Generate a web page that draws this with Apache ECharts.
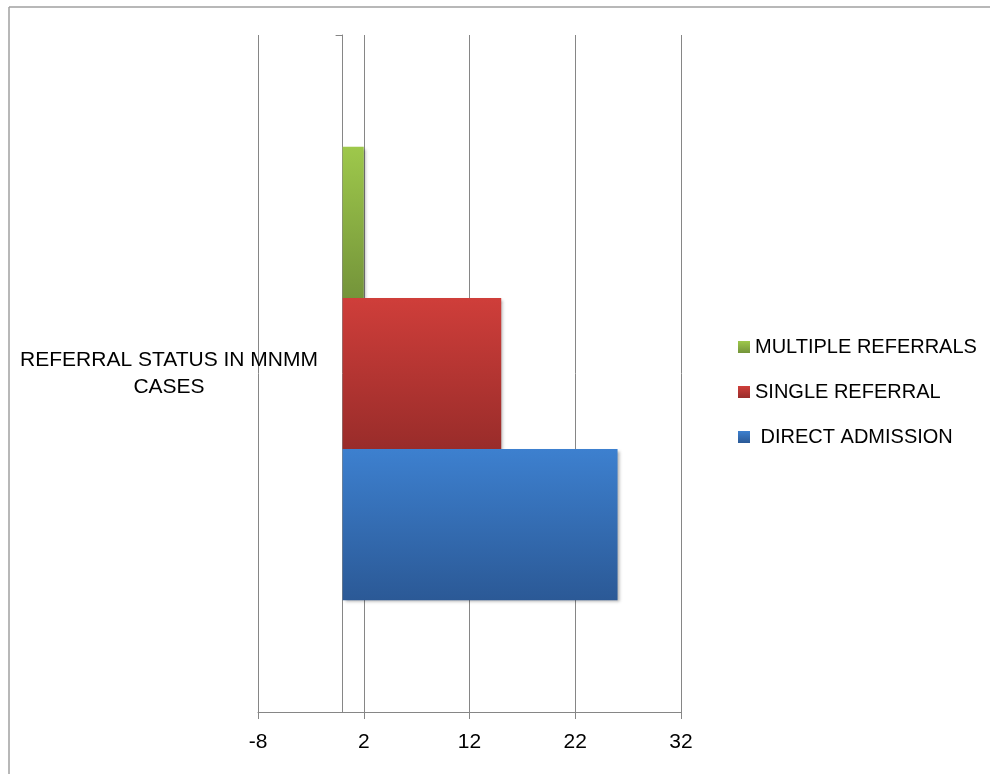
<!DOCTYPE html>
<html>
<head>
<meta charset="utf-8">
<script src="https://cdn.jsdelivr.net/npm/echarts@6/dist/echarts.min.js"></script>
<style>
  html, body { margin: 0; padding: 0; background: #fff; }
  #chart { width: 990px; height: 774px; }
</style>
</head>
<body>
<div id="chart"></div>
<script>
var categories = ['REFERRAL STATUS IN MNMM CASES'];
var seriesNames = ['MULTIPLE REFERRALS', 'SINGLE REFERRAL', 'DIRECT ADMISSION'];
var multipleReferrals = [2];
var singleReferral = [15];
var directAdmission = [26];
var legendOrder = ['MULTIPLE REFERRALS', 'SINGLE REFERRAL', 'DIRECT ADMISSION'];

var chartDom = document.getElementById('chart');
var myChart = echarts.init(chartDom);
var option;

function grad(top, bottom) {
    return new echarts.graphic.LinearGradient(0, 0, 0, 1, [
        {offset: 0, color: top},
        {offset: 1, color: bottom}
    ]);
}

var barShadow = {
    shadowBlur: 3,
    shadowOffsetX: 2,
    shadowOffsetY: 2,
    shadowColor: 'rgba(0,0,0,0.3)'
};

option = {
    backgroundColor: '#fff',
    textStyle: { fontFamily: 'Liberation Sans' },
    animation: false,
    grid: { left: 258, right: 309, top: 35, bottom: 62, containLabel: false, outerBoundsMode: 'none' },
    legend: {
        orient: 'vertical',
        left: 733,
        top: 332,
        icon: 'rect',
        itemWidth: 12,
        itemHeight: 12,
        itemGap: 25,
        data: legendOrder,
        formatter: function (name) {
            return name === 'DIRECT ADMISSION' ? ' ' + name : name;
        },
        textStyle: { fontSize: 20, color: '#000', fontFamily: 'Liberation Sans' }
    },
    xAxis: {
        type: 'value',
        min: -8,
        max: 32,
        interval: 10,
        axisLine: { show: true, lineStyle: { color: '#868686', width: 1 } },
        axisTick: { show: true, length: 7, lineStyle: { color: '#868686' } },
        splitLine: { show: true, lineStyle: { color: '#868686', width: 1 } },
        axisLabel: { fontSize: 21, color: '#000', margin: 20 }
    },
    yAxis: {
        type: 'category',
        data: categories,
        axisLine: { show: true, onZero: true, lineStyle: { color: '#868686', width: 1 } },
        axisTick: { show: true, length: 7, lineStyle: { color: '#868686' } },
        axisLabel: {
            fontSize: 21,
            color: '#000',
            align: 'center',
            margin: 89,
            lineHeight: 27,
            formatter: function (v) { return v.replace(' CASES', '\nCASES'); }
        }
    },
    series: [
        {
            name: seriesNames[0],
            type: 'bar',
            data: multipleReferrals,
            barGap: '0%',
            barCategoryGap: '33%',
            itemStyle: Object.assign({ color: grad('#9EC84B', '#74943A') }, barShadow)
        },
        {
            name: seriesNames[1],
            type: 'bar',
            data: singleReferral,
            barGap: '0%',
            barCategoryGap: '33%',
            itemStyle: Object.assign({ color: grad('#CF3E3A', '#992C2A') }, barShadow)
        },
        {
            name: seriesNames[2],
            type: 'bar',
            data: directAdmission,
            barGap: '0%',
            barCategoryGap: '33%',
            itemStyle: Object.assign({ color: grad('#3D80CF', '#2B5996') }, barShadow)
        }
    ],
    graphic: [
        { type: 'line', shape: { x1: 9, y1: 7, x2: 990, y2: 7 }, style: { stroke: '#A0A0A0', lineWidth: 1.5 } },
        { type: 'line', shape: { x1: 9, y1: 7, x2: 9, y2: 774 }, style: { stroke: '#A0A0A0', lineWidth: 1.5 } }
    ]
};

option && myChart.setOption(option);
</script>
</body>
</html>
